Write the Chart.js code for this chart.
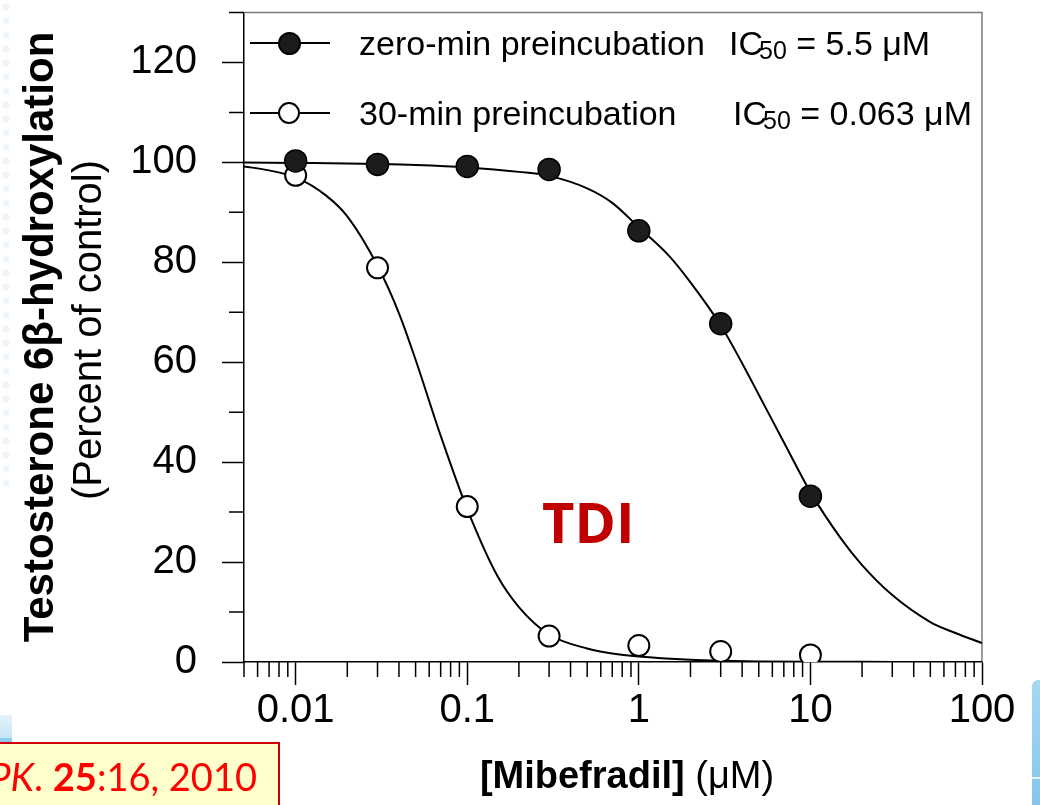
<!DOCTYPE html>
<html>
<head>
<meta charset="utf-8">
<script src="https://cdn.jsdelivr.net/npm/chart.js@4/dist/chart.umd.min.js"></script>
<style>
html,body{margin:0;padding:0;background:#fff;}
#wrap{position:relative;width:1040px;height:805px;overflow:hidden;background:#fff;font-family:"Liberation Sans",Arial,sans-serif;color:#000;}
#c{position:absolute;left:0;top:0;}
.abs{position:absolute;white-space:nowrap;}
.legline{position:absolute;height:2px;background:#000;}
.dot{position:absolute;border-radius:50%;box-sizing:border-box;border:2px solid #000;}
.legtxt{position:absolute;white-space:nowrap;font-size:34px;line-height:34px;}
.sub{font-size:25px;position:relative;top:4px;margin-left:-4px;}
</style>
</head>
<body>
<div id="wrap">
  <div class="abs" style="left:0;top:0;width:12px;height:490px;background-image:radial-gradient(circle,#edf5fb 3px,rgba(255,255,255,0) 4px);background-size:12px 14px;"></div>
  <canvas id="c" width="1040" height="805"></canvas>

  <!-- legend -->
  <div class="legline" style="left:250px;top:42px;width:80px;"></div>
  <div class="dot" style="left:278px;top:32px;width:23px;height:23px;background:#1c1c1c;"></div>
  <div class="legtxt" style="left:359px;top:26px;">zero-min preincubation</div>
  <div class="legtxt" style="left:729px;top:26px;">IC<span class="sub">50</span> = 5.5 μM</div>

  <div class="legline" style="left:250px;top:112px;width:80px;"></div>
  <div class="dot" style="left:278px;top:102px;width:22px;height:22px;background:#fff;"></div>
  <div class="legtxt" style="left:359px;top:96px;">30-min preincubation</div>
  <div class="legtxt" style="left:733px;top:96px;">IC<span class="sub">50</span> = 0.063 μM</div>

  <!-- annotation -->
  <div class="abs" style="left:542px;top:493px;font-family:'Open Sans',sans-serif;font-weight:700;font-size:56px;line-height:56px;color:#c00000;">TDI</div>

  <!-- axis titles -->
  <div class="abs" style="left:-311px;top:316px;width:700px;height:42px;line-height:42px;text-align:center;font-weight:700;font-size:42px;transform:rotate(-90deg);">Testosterone 6β-hydroxylation</div>
  <div class="abs" style="left:-213px;top:310px;width:600px;height:40px;line-height:40px;text-align:center;font-size:40px;transform:rotate(-90deg);">(Percent of control)</div>
  <div class="abs" style="left:427px;top:756px;width:400px;line-height:38px;text-align:center;font-size:38px;"><b>[Mibefradil]</b> (μM)</div>

  <!-- citation -->
  <div class="abs" style="left:-2px;top:742px;width:282px;height:80px;background:#ffffcc;border:2px solid #d00000;box-sizing:border-box;"></div>
  <div class="abs" style="right:783px;top:757px;font-family:Lato,'Open Sans',sans-serif;font-size:38px;line-height:38px;color:#ff0000;text-align:right;"><i>PK</i>. <b>25</b>:16, 2010</div>

  <!-- slide decorations -->
  <div class="abs" style="left:0;top:715px;width:12px;height:27px;background:linear-gradient(#e4f3fc,#c5e6f7);border-bottom:4px solid #8fcbea;box-sizing:border-box;"></div>
  <div class="abs" style="left:1032px;top:680px;width:12px;height:130px;background:linear-gradient(#a6d8f2,#83c6ea);border-top-left-radius:6px;"></div>
  <div class="abs" style="left:1032px;top:777px;width:10px;height:2px;background:#e8f5fc;"></div>
</div>

<script>
// measured data points
const concentrations = [0.01, 0.03, 0.1, 0.3, 1, 3, 10];
const zeroMinValues = [100.3, 99.6, 99.2, 98.6, 86.3, 67.7, 33.2];
const thirtyMinValues = [97.4, 78.9, 31.1, 5.2, 3.3, 2.1, 1.4];

// fitted curves
const zeroMinFitX = [0.005, 0.01, 0.02, 0.03, 0.05, 0.1, 0.2, 0.3, 0.5, 0.7, 1, 1.5, 2, 3, 4, 5, 7, 10, 15, 20, 30, 50, 70, 100];
const zeroMinFitY = [100, 99.9, 99.8, 99.7, 99.5, 99.0, 98.1, 97.3, 94.8, 91.9, 87.0, 81.3, 76.0, 67.4, 59.8, 53.5, 44.0, 34.0, 24.8, 19.4, 13.4, 8.0, 5.8, 3.8];
const thirtyMinFitX = [0.005, 0.007, 0.01, 0.015, 0.02, 0.03, 0.04, 0.05, 0.07, 0.1, 0.15, 0.2, 0.3, 0.5, 0.7, 1, 2, 3, 5, 10, 30, 100];
const thirtyMinFitY = [99.2, 98.4, 97.0, 93.4, 89.2, 79.3, 69.8, 60.5, 45.3, 30.6, 17.2, 11.0, 5.5, 2.7, 1.7, 1.1, 0.45, 0.25, 0.12, 0.05, 0.02, 0.0];

// ticks
const xMajorTicks = [0.01, 0.1, 1, 10, 100];
const xTickLabels = ['0.01', '0.1', '1', '10', '100'];
const xMinorTicks = [0.005, 0.006, 0.007, 0.008, 0.009,
  0.02, 0.03, 0.04, 0.05, 0.06, 0.07, 0.08, 0.09,
  0.2, 0.3, 0.4, 0.5, 0.6, 0.7, 0.8, 0.9,
  2, 3, 4, 5, 6, 7, 8, 9,
  20, 30, 40, 50, 60, 70, 80, 90];
const yMajorTicks = [0, 20, 40, 60, 80, 100, 120];
const yMinorTicks = [10, 30, 50, 70, 90, 110, 130];

const toXY = (xs, ys) => xs.map((x, i) => ({x: x, y: ys[i]}));
const FONT = 'Liberation Sans';

const frameAndMinorTicks = {
  id: 'frameAndMinorTicks',
  beforeDatasetsDraw(chart) {
    const {ctx, chartArea: a, scales: {x, y}} = chart;
    ctx.save();
    ctx.strokeStyle = '#7a7a7a';
    ctx.lineWidth = 1.5;
    ctx.beginPath();
    ctx.moveTo(a.left, a.top);
    ctx.lineTo(a.right, a.top);
    ctx.lineTo(a.right, a.bottom);
    ctx.stroke();
    ctx.strokeStyle = '#000';
    ctx.beginPath();
    xMinorTicks.forEach(v => {
      const px = x.getPixelForValue(v);
      ctx.moveTo(px, a.bottom);
      ctx.lineTo(px, a.bottom + 15);
    });
    yMinorTicks.forEach(v => {
      const py = y.getPixelForValue(v);
      ctx.moveTo(a.left, py);
      ctx.lineTo(a.left - 15, py);
    });
    ctx.stroke();
    ctx.restore();
  }
};

new Chart(document.getElementById('c'), {
  type: 'scatter',
  data: {
    datasets: [
      {
        label: 'zero-min preincubation',
        data: toXY(concentrations, zeroMinValues),
        showLine: false,
        pointRadius: 11,
        pointBackgroundColor: '#1c1c1c',
        pointBorderColor: '#000',
        pointBorderWidth: 1.5
      },
      {
        label: '30-min preincubation',
        data: toXY(concentrations, thirtyMinValues),
        showLine: false,
        pointRadius: 10.5,
        pointBackgroundColor: '#fff',
        pointBorderColor: '#000',
        pointBorderWidth: 2
      },
      {
        label: 'zero-min fit',
        data: toXY(zeroMinFitX, zeroMinFitY),
        showLine: true,
        pointRadius: 0,
        borderColor: '#000',
        borderWidth: 2,
        cubicInterpolationMode: 'monotone'
      },
      {
        label: '30-min fit',
        data: toXY(thirtyMinFitX, thirtyMinFitY),
        showLine: true,
        pointRadius: 0,
        borderColor: '#000',
        borderWidth: 2,
        cubicInterpolationMode: 'monotone'
      }
    ]
  },
  options: {
    responsive: false,
    devicePixelRatio: 1,
    animation: false,
    layout: {padding: {left: 0, right: 58, top: 10, bottom: 0}},
    plugins: {legend: {display: false}, tooltip: {enabled: false}},
    scales: {
      x: {
        type: 'logarithmic',
        position: 'bottom',
        min: 0.005,
        max: 100,
        afterBuildTicks: s => {
          s.ticks = xMajorTicks.map(v => ({value: v, major: true}));
        },
        afterFit: s => { s.height = 143; s.paddingLeft = 0; s.paddingRight = 0; },
        border: {display: true, color: '#000', width: 1.5},
        grid: {display: true, drawOnChartArea: false, drawTicks: true, tickLength: 23, tickWidth: 1.5, tickColor: '#000'},
        ticks: {
          autoSkip: false, maxRotation: 0, minRotation: 0, padding: 2,
          color: '#000', font: {family: FONT, size: 40},
          callback: (v) => { const i = xMajorTicks.indexOf(v); return i >= 0 ? xTickLabels[i] : ''; }
        }
      },
      y: {
        type: 'linear',
        min: 0,
        max: 130,
        afterBuildTicks: s => {
          s.ticks = yMajorTicks.map(v => ({value: v, major: true}));
        },
        afterFit: s => { s.width = 244; s.paddingTop = 0; s.paddingBottom = 0; },
        border: {display: true, color: '#000', width: 1.5},
        grid: {display: true, drawOnChartArea: false, drawTicks: true, tickLength: 22, tickWidth: 1.5, tickColor: '#000'},
        ticks: {
          autoSkip: false, padding: 25,
          color: '#000', font: {family: FONT, size: 40},
          callback: (v) => String(v)
        }
      }
    }
  },
  plugins: [frameAndMinorTicks]
});
</script>
</body>
</html>
